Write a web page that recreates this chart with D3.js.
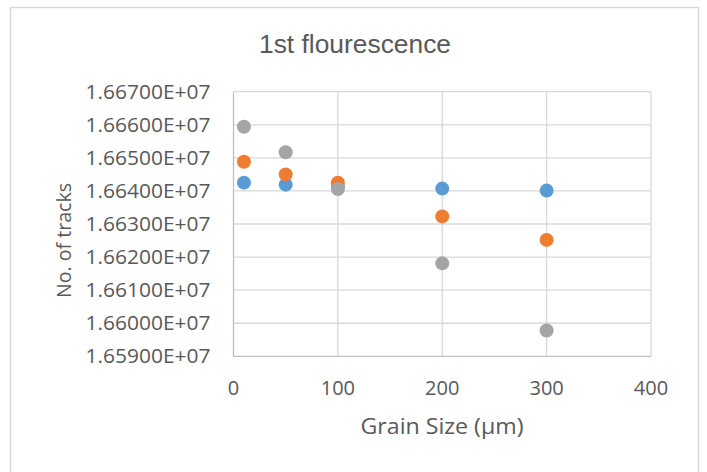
<!DOCTYPE html>
<html>
<head>
<meta charset="utf-8">
<script src="https://cdn.jsdelivr.net/npm/d3@7"></script>
<style>
  html, body { margin: 0; padding: 0; background: #fff; }
  svg { display: block; }
  text { fill: #595959; }
</style>
</head>
<body>
<svg id="chart" width="707" height="472"></svg>
<script>
// Grain sizes (µm) shared by all three series
const grainSizes = [10, 50, 100, 200, 300];

// Track counts per series (drawn in this order)
const seriesBlue   = [16642500, 16641900, 16641300, 16640700, 16640100];
const seriesOrange = [16648800, 16645000, 16642500, 16632300, 16625200];
const seriesGray   = [16659400, 16651700, 16640600, 16618100, 16597800];

const xTicks = [0, 100, 200, 300, 400];
const yTicks = [16590000, 16600000, 16610000, 16620000, 16630000, 16640000, 16650000, 16660000, 16670000];

const series = [
  { values: seriesBlue,   color: "#5b9bd5" },
  { values: seriesOrange, color: "#ed7d31" },
  { values: seriesGray,   color: "#a5a5a5" }
];

const svg = d3.select("#chart");
const W = 707, H = 472;
const plot = { left: 233.5, right: 651, top: 91.7, bottom: 356.3 };

svg.append("rect").attr("width", W).attr("height", H).attr("fill", "#fff");

// Chart frame
svg.append("rect")
  .attr("x", 10.5).attr("y", 7.5)
  .attr("width", 688).attr("height", 490)
  .attr("fill", "none")
  .attr("stroke", "#d9d9d9")
  .attr("stroke-width", 1.5);

const x = d3.scaleLinear().domain([0, 400]).range([plot.left, plot.right]);
const y = d3.scaleLinear().domain([16590000, 16670000]).range([plot.bottom, plot.top]);

const fmt = v => (v / 1e7).toFixed(5) + "E+07";

// Horizontal gridlines
svg.append("g").selectAll("line").data(yTicks.slice(1)).join("line")
  .attr("x1", plot.left).attr("x2", plot.right)
  .attr("y1", d => y(d)).attr("y2", d => y(d))
  .attr("stroke", "#d9d9d9").attr("stroke-width", 1.3);

// Vertical gridlines
svg.append("g").selectAll("line").data(xTicks.slice(1)).join("line")
  .attr("x1", d => x(d)).attr("x2", d => x(d))
  .attr("y1", plot.top).attr("y2", plot.bottom)
  .attr("stroke", "#d9d9d9").attr("stroke-width", 1.3);

// Axis lines
svg.append("line")
  .attr("x1", plot.left).attr("x2", plot.right)
  .attr("y1", plot.bottom).attr("y2", plot.bottom)
  .attr("stroke", "#bfbfbf").attr("stroke-width", 1.3);
svg.append("line")
  .attr("x1", plot.left).attr("x2", plot.left)
  .attr("y1", plot.top).attr("y2", plot.bottom)
  .attr("stroke", "#bfbfbf").attr("stroke-width", 1.3);

// Y tick labels
svg.append("g").selectAll("text").data(yTicks).join("text")
  .attr("x", plot.left - 23)
  .attr("y", d => y(d))
  .attr("dy", "0.35em")
  .attr("text-anchor", "end")
  .attr("font-family", "Open Sans")
  .attr("font-size", 19.5)
  .attr("textLength", 125)
  .attr("lengthAdjust", "spacingAndGlyphs")
  .text(fmt);

// X tick labels
svg.append("g").selectAll("text").data(xTicks).join("text")
  .attr("x", d => x(d))
  .attr("y", 388)
  .attr("dy", "0.35em")
  .attr("text-anchor", "middle")
  .attr("font-family", "Open Sans")
  .attr("font-size", 20)
  .text(d => d);

// Title
svg.append("text")
  .attr("x", 355).attr("y", 53)
  .attr("text-anchor", "middle")
  .attr("font-family", "Liberation Sans, Arial, sans-serif")
  .attr("font-size", 26.5)
  .attr("textLength", 192)
  .attr("lengthAdjust", "spacingAndGlyphs")
  .text("1st flourescence");

// Axis titles
svg.append("text")
  .attr("x", 442).attr("y", 427)
  .attr("dy", "0.35em")
  .attr("text-anchor", "middle")
  .attr("font-family", "Open Sans")
  .attr("font-size", 21)
  .attr("textLength", 163)
  .attr("lengthAdjust", "spacingAndGlyphs")
  .text("Grain Size (µm)");

svg.append("text")
  .attr("transform", "translate(64,240.5) rotate(-90)")
  .attr("dy", "0.35em")
  .attr("text-anchor", "middle")
  .attr("font-family", "Open Sans")
  .attr("font-size", 20)
  .attr("textLength", 115)
  .attr("lengthAdjust", "spacingAndGlyphs")
  .text("No. of tracks");

// Markers
series.forEach(s => {
  svg.append("g").selectAll("circle").data(grainSizes).join("circle")
    .attr("cx", (d) => x(d))
    .attr("cy", (d, i) => y(s.values[i]))
    .attr("r", 7)
    .attr("fill", s.color);
});
</script>
</body>
</html>
